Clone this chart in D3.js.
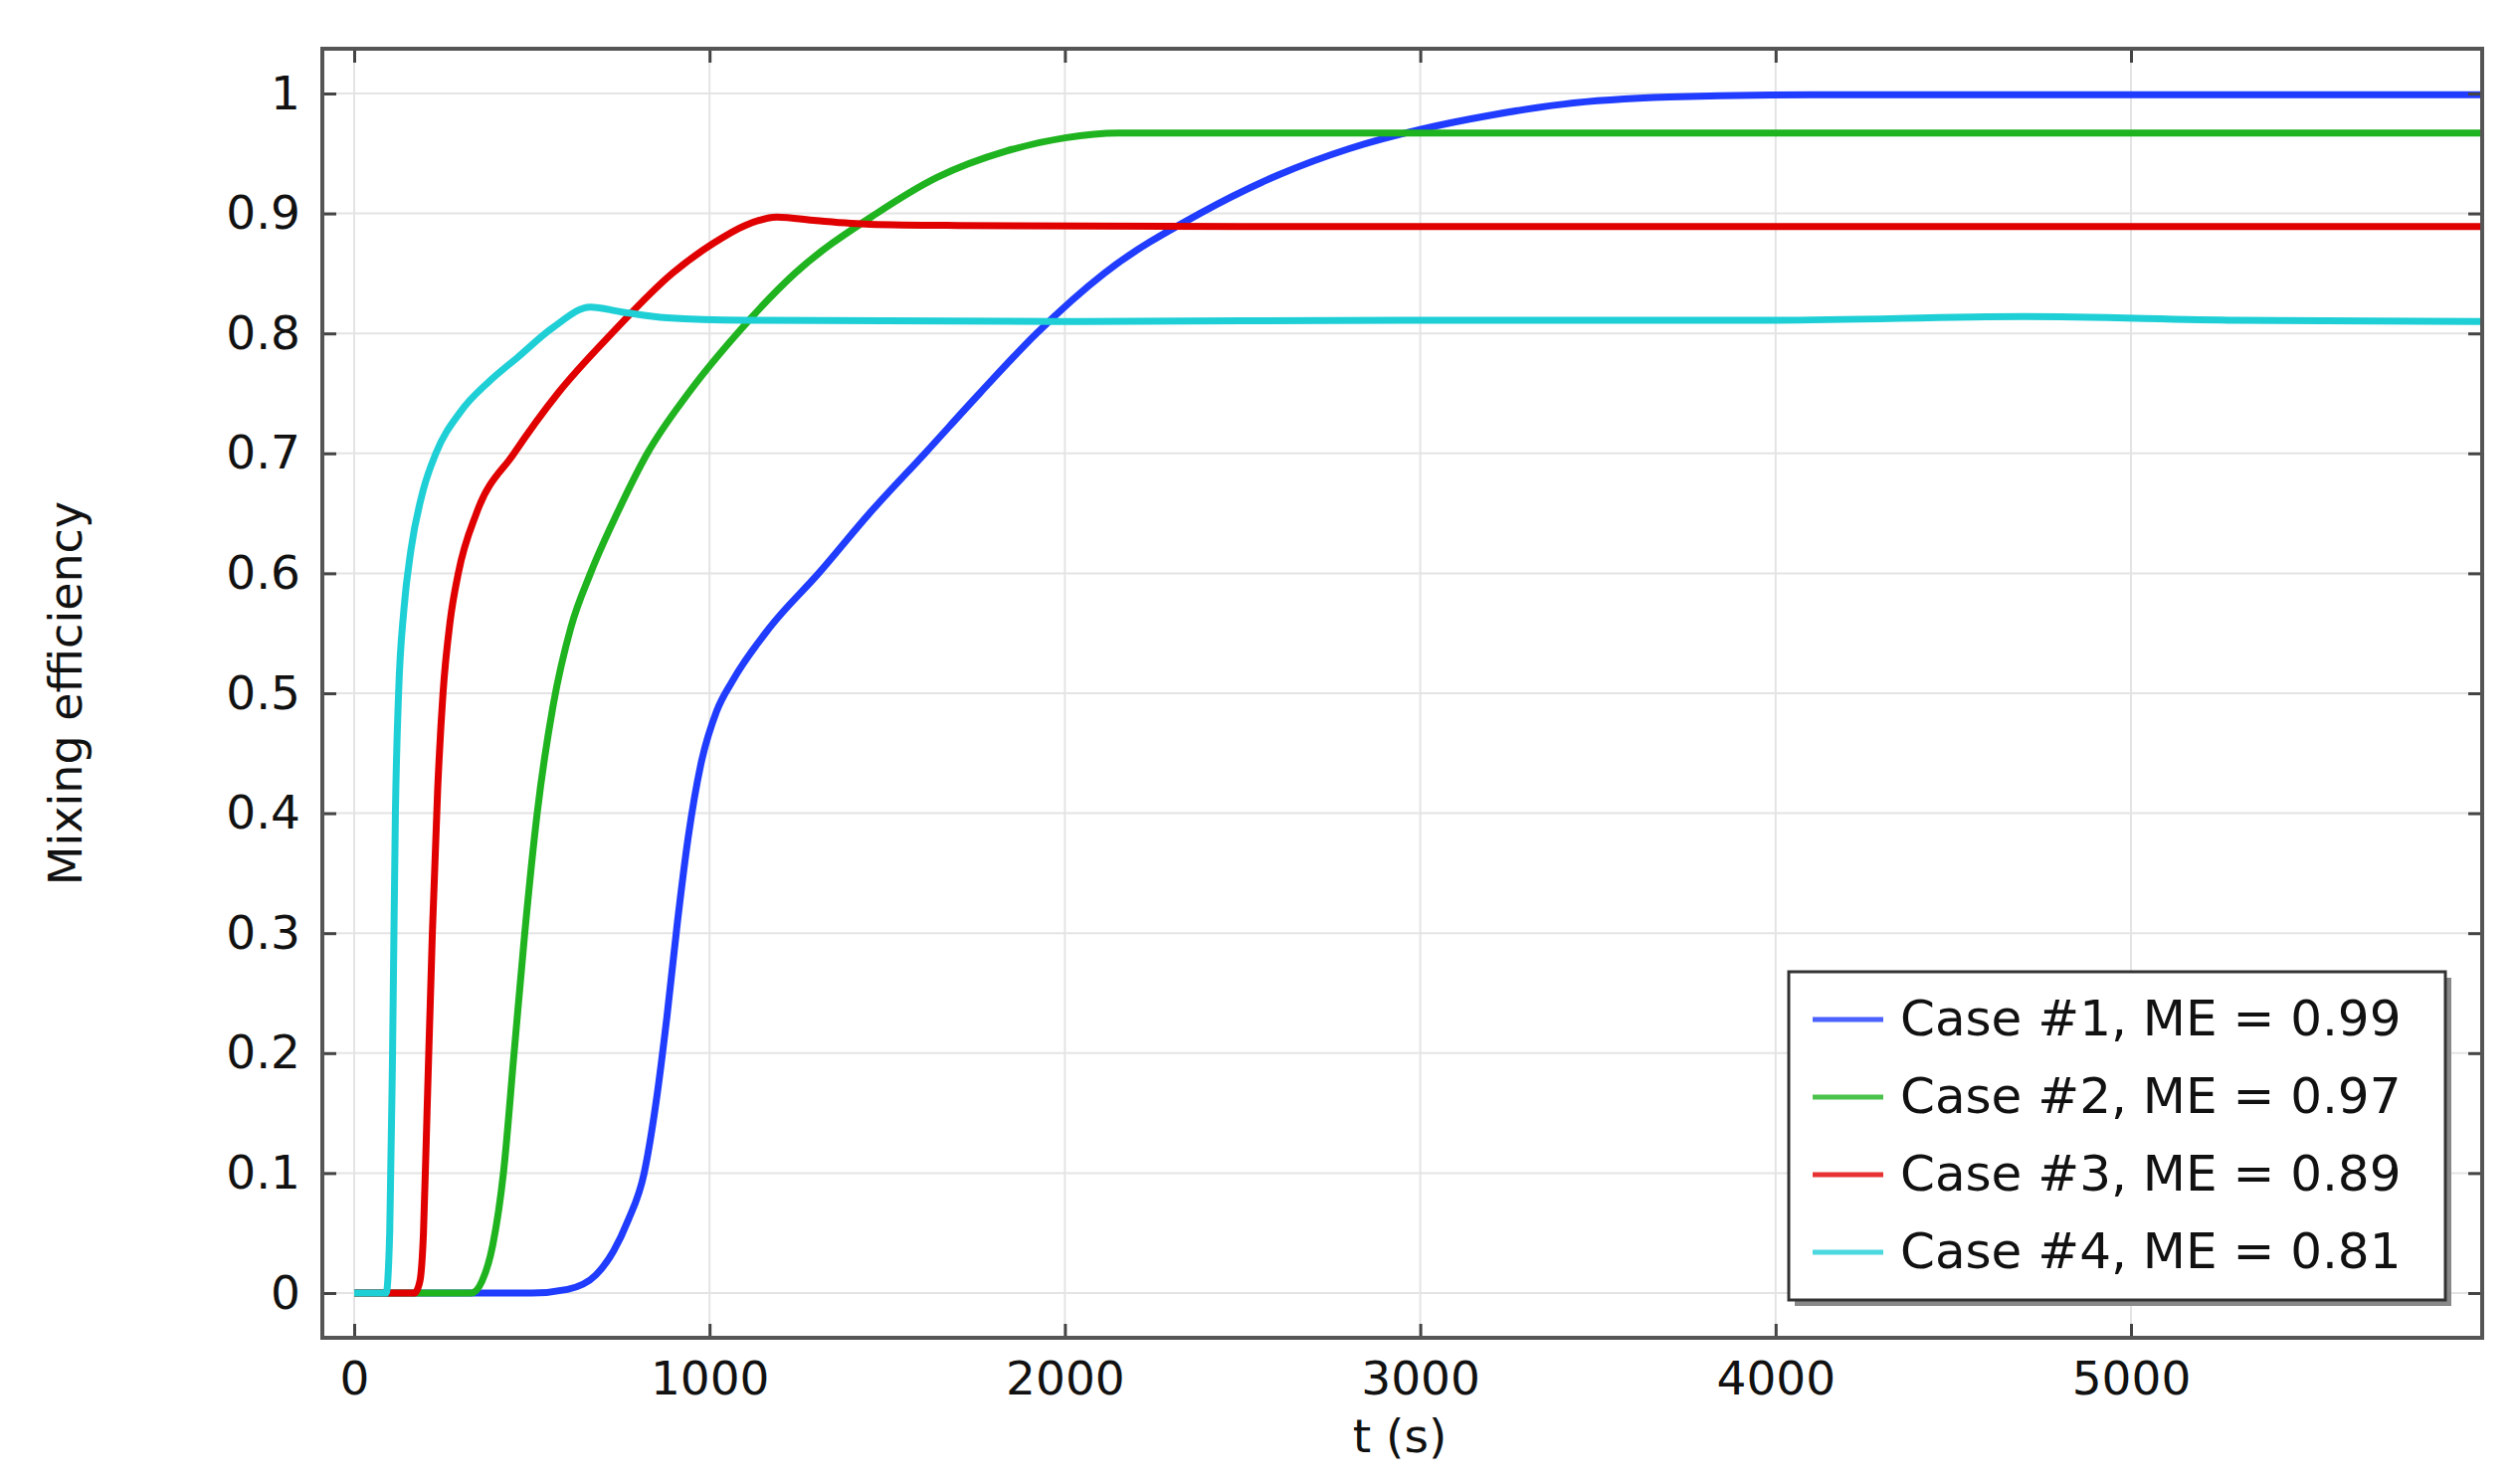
<!DOCTYPE html>
<html><head><meta charset="utf-8">
<script src="https://cdn.jsdelivr.net/npm/d3@7"></script>
<style>body{margin:0;background:#fff}</style></head>
<body><svg id="c" width="2528" height="1492"></svg>
<script>
const xTicks=[0,1000,2000,3000,4000,5000];
const yTicks=[0,0.1,0.2,0.3,0.4,0.5,0.6,0.7,0.8,0.9,1];
const yTickLabels=["0","0.1","0.2","0.3","0.4","0.5","0.6","0.7","0.8","0.9","1"];
const seriesNames=["Case #1, ME = 0.99","Case #2, ME = 0.97","Case #3, ME = 0.89","Case #4, ME = 0.81"];
const seriesColors=["#1f3cff","#1fb31f","#e00000","#1fcfd6"];
const case1=[[0,0],[500,0],[600,0.003],[680,0.015],[730,0.035],[770,0.06],[816,0.1],[850,0.16],[880,0.23],[910,0.31],[940,0.38],[975,0.44],[1020,0.485],[1064,0.51],[1170,0.555],[1307,0.6],[1450,0.65],[1606,0.7],[1760,0.75],[1920,0.8],[2110,0.85],[2380,0.9],[2600,0.932],[2800,0.954],[3000,0.97],[3200,0.982],[3400,0.991],[3700,0.997],[4100,0.999],[6000,0.999]];
const case2=[[0,0],[330,0],[360,0.01],[390,0.04],[420,0.1],[450,0.2],[480,0.3],[515,0.4],[560,0.49],[610,0.555],[665,0.6],[740,0.65],[825,0.7],[940,0.75],[1078,0.8],[1240,0.85],[1470,0.9],[1640,0.93],[1835,0.952],[2000,0.963],[2150,0.967],[6000,0.967]];
const case3=[[0,0],[170,0],[185,0.01],[195,0.05],[205,0.15],[220,0.3],[235,0.42],[250,0.5],[270,0.56],[293,0.6],[344,0.65],[450,0.7],[573,0.75],[725,0.8],[895,0.85],[1010,0.875],[1100,0.89],[1190,0.897],[1300,0.894],[1450,0.891],[1700,0.89],[2500,0.889],[6000,0.889]];
const case4=[[0,0],[90,0],[100,0.05],[108,0.2],[116,0.4],[125,0.5],[140,0.57],[160,0.62],[195,0.67],[230,0.7],[300,0.735],[380,0.76],[460,0.78],[560,0.805],[665,0.822],[750,0.818],[880,0.813],[1100,0.811],[2000,0.81],[3000,0.811],[4000,0.811],[4700,0.814],[5300,0.811],[6000,0.81]];
const allSeries=[case1,case2,case3,case4];

const svg=d3.select("#c");
const L=324,R=2495,T=49,B=1345;
const x=d3.scaleLinear().domain([0,6000]).range([356,356+6*357.2]);
const y=d3.scaleLinear().domain([0,1]).range([1300,94]);
const font="DejaVu Sans, sans-serif";
const g=svg.append("g");
g.selectAll(".gx").data(xTicks).enter().append("line").attr("x1",d=>x(d)).attr("x2",d=>x(d)).attr("y1",T).attr("y2",B).attr("stroke","#e4e4e4").attr("stroke-width",2);
g.selectAll(".gy").data(yTicks).enter().append("line").attr("y1",d=>y(d)).attr("y2",d=>y(d)).attr("x1",L).attr("x2",R).attr("stroke","#e4e4e4").attr("stroke-width",2);
const line=d3.line().x(d=>x(d[0])).y(d=>y(d[1])).curve(d3.curveMonotoneX);
svg.append("defs").append("clipPath").attr("id","cp").append("rect").attr("x",L).attr("y",T).attr("width",R-L).attr("height",B-T);
allSeries.forEach((s,i)=>svg.append("path").attr("d",line(s)).attr("fill","none").attr("stroke",seriesColors[i]).attr("stroke-width",7).attr("stroke-linejoin","round").attr("clip-path","url(#cp)"));
const ax=svg.append("g");
ax.append("g").attr("transform",`translate(0,${B})`).call(d3.axisBottom(x).tickValues(xTicks).tickSize(-14).tickPadding(24).tickFormat(d3.format("d")));
ax.append("g").attr("transform",`translate(0,${T})`).call(d3.axisTop(x).tickValues(xTicks).tickSize(-14).tickFormat(""));
ax.append("g").attr("transform",`translate(${L},0)`).call(d3.axisLeft(y).tickValues(yTicks).tickSize(-14).tickPadding(22).tickFormat((d,i)=>yTickLabels[i]));
ax.append("g").attr("transform",`translate(${R},0)`).call(d3.axisRight(y).tickValues(yTicks).tickSize(-14).tickFormat(""));
ax.selectAll(".domain").remove();
ax.selectAll(".tick line").attr("stroke","#444").attr("stroke-width",3);
ax.selectAll("text").attr("font-family",font).attr("font-size",47).attr("fill","#111");
svg.append("rect").attr("x",L).attr("y",T).attr("width",R-L).attr("height",B-T).attr("fill","none").attr("stroke","#555").attr("stroke-width",4);
svg.append("text").attr("x",1407).attr("y",1460).attr("text-anchor","middle").attr("font-family",font).attr("font-size",47).attr("fill","#111").text("t (s)");
svg.append("text").attr("transform","translate(82,697) rotate(-90)").attr("text-anchor","middle").attr("font-family",font).attr("font-size",46).attr("fill","#111").text("Mixing efficiency");
const lg=svg.append("g");
lg.append("rect").attr("x",1804).attr("y",983).attr("width",660).attr("height",330).attr("fill","#888");
lg.append("rect").attr("x",1798).attr("y",977).attr("width",660).attr("height",330).attr("fill","#fff").attr("stroke","#333").attr("stroke-width",3);
seriesNames.forEach((n,i)=>{const yy=1025+i*78;
 lg.append("line").attr("x1",1822).attr("x2",1893).attr("y1",yy).attr("y2",yy).attr("stroke",seriesColors[i]).attr("stroke-width",5).attr("opacity",0.8);
 lg.append("text").attr("x",1910).attr("y",yy+16).attr("font-family",font).attr("font-size",50).attr("fill","#111").text(n);});
</script></body></html>
